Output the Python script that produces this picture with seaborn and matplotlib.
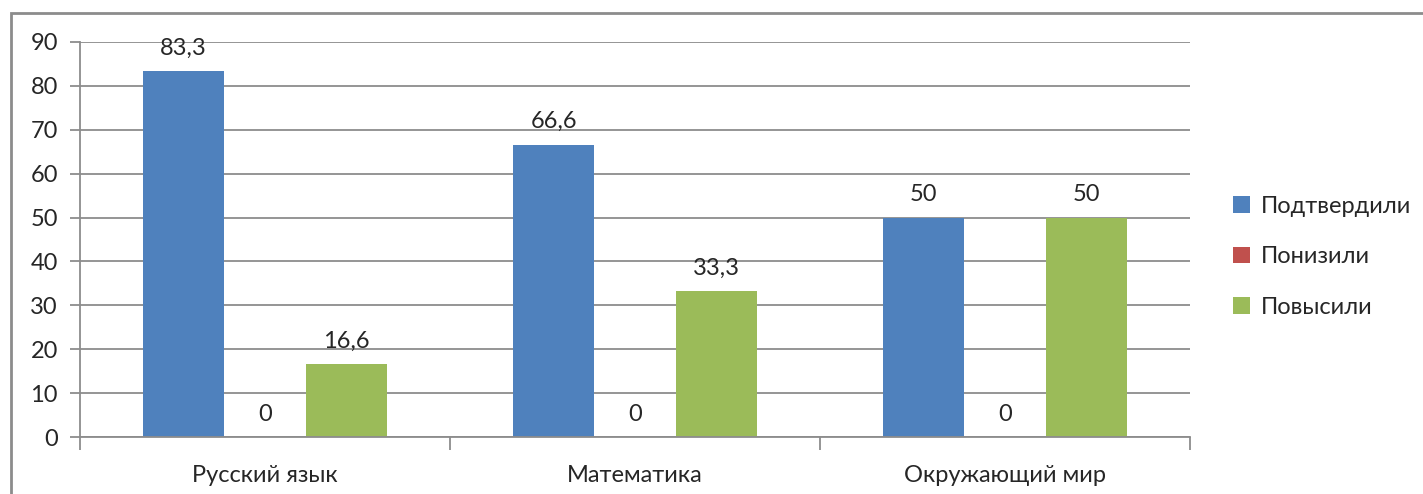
import matplotlib
matplotlib.use("Agg")
import matplotlib.pyplot as plt
import matplotlib.patches as mpatches
import pandas as pd
import seaborn as sns

# chart data
categories = ["Русский язык", "Математика", "Окружающий мир"]
series = ["Подтвердили", "Понизили", "Повысили"]
podtverdili = [83.3, 66.6, 50]
ponizili = [0, 0, 0]
povysili = [16.6, 33.3, 50]
colors = ["#4F81BD", "#C0504D", "#9BBB59"]

df = pd.DataFrame({
    "cat": categories * 3,
    "series": [series[0]] * 3 + [series[1]] * 3 + [series[2]] * 3,
    "value": podtverdili + ponizili + povysili,
})

sns.set_theme(style="white")
plt.rcParams["font.family"] = ["Lato", "DejaVu Sans"]
fs = 17

fig = plt.figure(figsize=(14.23, 4.94), dpi=100)
ax = fig.add_axes([80 / 1423, 57 / 494, 1110 / 1423, 395 / 494])

sns.barplot(data=df, x="cat", y="value", hue="series", order=categories,
            hue_order=series, palette=colors, width=0.66, saturation=1,
            linewidth=0, ax=ax, legend=True)

ax.set_xlim(-0.5, 2.5)
ax.set_ylim(0, 90)
ax.set_yticks(range(0, 91, 10))
ax.set_xlabel("")
ax.set_ylabel("")
ax.grid(axis="y", color="#8c8c8c", linewidth=1.3)
ax.set_axisbelow(True)
for s in ["top", "right"]:
    ax.spines[s].set_visible(False)
for s in ["left", "bottom"]:
    ax.spines[s].set_color("#8c8c8c")
    ax.spines[s].set_linewidth(1.3)

# y ticks outward, x ticks at category boundaries
ax.tick_params(axis="y", length=7, width=1.3, color="#8c8c8c", labelsize=fs,
               left=True, pad=9)
ax.set_xticks([0, 1, 2])
ax.set_xticklabels(categories)
ax.tick_params(axis="x", length=0, labelsize=fs, pad=20)
ax.set_xticks([-0.5, 0.5, 1.5, 2.5], minor=True)
ax.tick_params(axis="x", which="minor", length=9, width=1.3, color="#8c8c8c",
               bottom=True)

for cont in ax.containers:
    labels = [("%g" % b.get_height()).replace(".", ",") for b in cont]
    ax.bar_label(cont, labels=labels, padding=9, fontsize=fs)

leg = ax.legend(loc="center left", bbox_to_anchor=(1.02, 0.456), frameon=False,
                fontsize=fs, handlelength=0.7, handleheight=0.7,
                labelspacing=1.25, handletextpad=0.45)

# outer chart border (only top and left visible in the crop)
fig.patches.append(mpatches.Rectangle((11 / 1423, -0.1), 1.2, (494 - 13) / 494 + 0.1,
                                      transform=fig.transFigure, fill=False,
                                      edgecolor="#8c8c8c", linewidth=2))

fig.savefig("out.png", dpi=100)
